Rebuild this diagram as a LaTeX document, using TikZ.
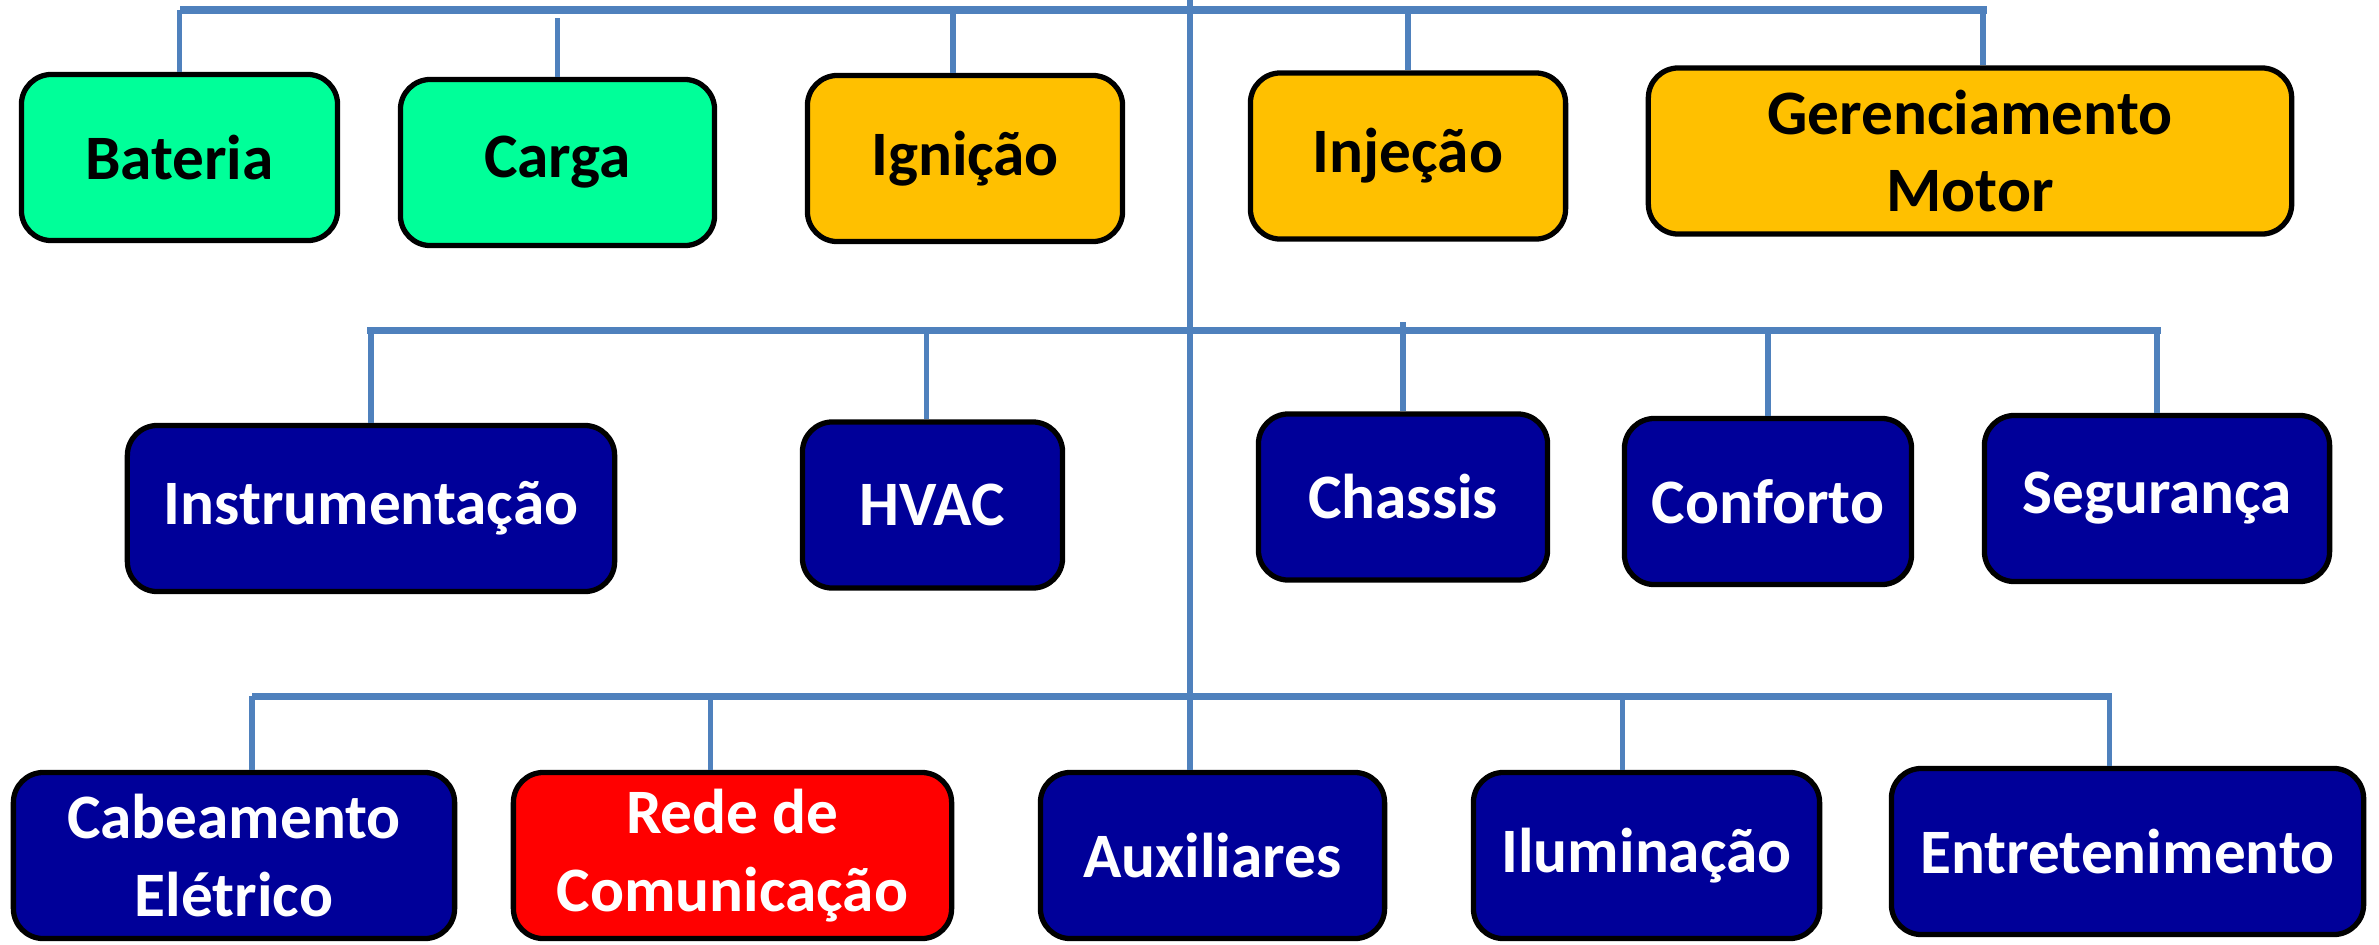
\documentclass[tikz,border=0pt]{standalone}
\usepackage{fontspec}
\setmainfont{Carlito}
\usepackage{tikz}
\usetikzlibrary{positioning}
\usetikzlibrary{calc}
\definecolor{cGreen}{RGB}{0,255,153}
\definecolor{cOrange}{RGB}{255,192,0}
\definecolor{cNavy}{RGB}{0,0,153}
\definecolor{cRed}{RGB}{255,0,0}
\definecolor{cLink}{RGB}{79,129,189}
\tikzstyle{sysbox} = [draw=black, line width=1.5pt, rounded corners=0.3cm, align=center,
    minimum height=1.66cm, inner sep=2pt,
    font=\fontsize{18}{22}\selectfont\bfseries]
\tikzstyle{greenbox}  = [sysbox, fill=cGreen,  text=black]
\tikzstyle{orangebox} = [sysbox, fill=cOrange, text=black]
\tikzstyle{navybox}   = [sysbox, fill=cNavy,   text=white]
\tikzstyle{redbox}    = [sysbox, fill=cRed,    text=white]
\tikzstyle{bus}  = [draw=cLink, line width=2pt]
\tikzstyle{link} = [draw=cLink, line width=1.5pt]

\begin{document}
\begin{tikzpicture}[x=0.01cm,y=-0.01cm]
                    \useasboundingbox (0,0) rectangle (2379,944);
                    % first row
                    \node at ( 179.5,157.5) [greenbox ,minimum width=3.16cm] (nBat)  {Bateria};
                    \node at ( 557.5,162.5) [greenbox ,minimum width=3.14cm] (nCarga){Carga};
                    \node at ( 965.0,158.5) [orangebox,minimum width=3.15cm] (nIgn)  {Igni\c{c}\~ao};
                    \node at (1408.0,156.0) [orangebox,minimum width=3.15cm] (nInj)  {Inje\c{c}\~ao};
                    \node at (1970.0,151.0) [orangebox,minimum width=6.43cm] (nGer)  {Gerenciamento\\Motor};
                    % second row
                    \node at ( 371.0,508.5) [navybox  ,minimum width=4.87cm] (nInst) {Instrumenta\c{c}\~ao};
                    \node at ( 932.5,505.0) [navybox  ,minimum width=2.60cm] (nHVAC) {HVAC};
                    \node at (1403.0,497.0) [navybox  ,minimum width=2.89cm] (nChas) {Chassis};
                    \node at (1768.0,501.5) [navybox  ,minimum width=2.87cm] (nConf) {Conforto};
                    \node at (2157.0,498.5) [navybox  ,minimum width=3.45cm] (nSeg)  {Seguran\c{c}a};
                    % third row
                    \node at ( 234.0,855.5) [navybox  ,minimum width=4.41cm] (nCab)  {Cabeamento\\El\'etrico};
                    \node at ( 732.5,855.5) [redbox   ,minimum width=4.38cm] (nRede) {Rede de\\Comunica\c{c}\~ao};
                    \node at (1212.5,855.5) [navybox  ,minimum width=3.44cm] (nAux)  {Auxiliares};
                    \node at (1646.5,855.5) [navybox  ,minimum width=3.46cm] (nIlum) {Ilumina\c{c}\~ao};
                    \node at (2127.5,851.5) [navybox  ,minimum width=4.72cm] (nEnt)  {Entretenimento};
                    % bus coordinates
                    \coordinate (cRoot)  at (1190,0);
                    \coordinate (cTopL)  at ( 180,10);
                    \coordinate (cTopR)  at (1987,10);
                    \coordinate (cMidL)  at ( 367,330);
                    \coordinate (cMidR)  at (2161,330);
                    \coordinate (cLowL)  at ( 252,696);
                    \coordinate (cLowR)  at (2112,696);
                    \coordinate (cGap)   at (0,18);
                    \coordinate (cOver)  at (0,322);
                    % trunk and bars
                    \draw[link] (cRoot)  -- (cRoot |- nAux.north);
                    \draw[bus]  (cTopL)  -- (cTopR);
                    \draw[bus]  (cMidL)  -- (cMidR);
                    \draw[bus]  (cLowL)  -- (cLowR);
                    % drops
                    \draw[link] (nBat.north)                     -- (nBat.north |- cTopL);
                    \draw[link] (nCarga.north)                   -- (nCarga.north |- cGap);
                    \draw[link] ([xshift=-0.12cm]nIgn.north)     -- ([xshift=-0.12cm]nIgn.north |- cTopL);
                    \draw[link] (nInj.north)                     -- (nInj.north |- cTopL);
                    \draw[link] ([xshift= 0.13cm]nGer.north)     -- ([xshift= 0.13cm]nGer.north |- cTopL);
                    \draw[link] (nInst.north)                    -- (nInst.north |- cMidL);
                    \draw[link] ([xshift=-0.06cm]nHVAC.north)    -- ([xshift=-0.06cm]nHVAC.north |- cMidL);
                    \draw[link] (nChas.north)                    -- (nChas.north |- cOver);
                    \draw[link] (nConf.north)                    -- (nConf.north |- cMidL);
                    \draw[link] (nSeg.north)                     -- (nSeg.north |- cMidL);
                    \draw[link] ([xshift= 0.18cm]nCab.north)     -- ([xshift= 0.18cm]nCab.north |- cLowL);
                    \draw[link] ([xshift=-0.22cm]nRede.north)    -- ([xshift=-0.22cm]nRede.north |- cLowL);
                    \draw[link] ([xshift=-0.24cm]nIlum.north)    -- ([xshift=-0.24cm]nIlum.north |- cLowL);
                    \draw[link] ([xshift=-0.18cm]nEnt.north)     -- ([xshift=-0.18cm]nEnt.north |- cLowL);
                \end{tikzpicture}
\end{document}
